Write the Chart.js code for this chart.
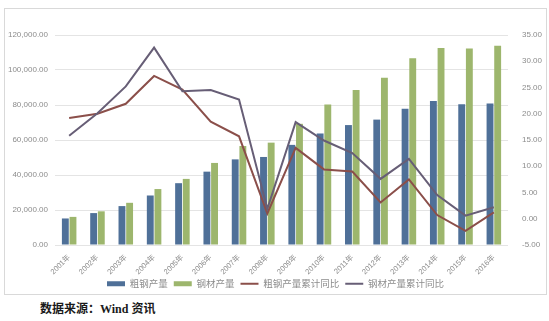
<!DOCTYPE html>
<html>
<head>
<meta charset="utf-8">
<script src="https://cdn.jsdelivr.net/npm/chart.js@4"></script>
<style>
  body { margin: 0; background: #fff; width: 549px; height: 321px; position: relative; overflow: hidden; }
  #frame { position: absolute; left: 4px; top: 8px; width: 541px; height: 285px; border: 1px solid #d9d9d9; }
  #src { position: absolute; left: 40px; top: 299px; font: bold 12px "Liberation Serif", "Noto Sans CJK SC"; color: #1a1a1a; white-space: nowrap; }
</style>
</head>
<body>
<div id="frame"><canvas id="c" width="541" height="285"></canvas></div>
<div id="src">数据来源：Wind 资讯</div>
<script>
const years = ['2001年','2002年','2003年','2004年','2005年','2006年','2007年','2008年',
  '2009年','2010年','2011年','2012年','2013年','2014年','2015年','2016年'];
// 万吨
const crudeSteel = [15163, 18237, 22234, 28291, 35324, 41915, 48929, 50306,
  57218, 63723, 68528, 71654, 77904, 82270, 80383, 80837];
const steelProducts = [16068, 19252, 24108, 31976, 37771, 46893, 56561, 58488,
  69244, 80277, 88620, 95578, 106762, 112513, 112350, 113801];
// 累计同比 %
const crudeYoY = [19.2, 20.0, 21.9, 27.2, 24.6, 18.5, 15.7, 1.0,
  13.5, 9.4, 9.0, 3.1, 7.5, 0.7, -2.3, 1.2];
const productsYoY = [15.8, 20.1, 25.2, 32.6, 24.3, 24.5, 22.7, 1.9,
  18.4, 14.9, 12.5, 7.6, 11.4, 4.5, 0.6, 2.2];
const leftTicks = [0, 20000, 40000, 60000, 80000, 100000, 120000];
const rightTicks = [-5, 0, 5, 10, 15, 20, 25, 30, 35];

function fmtThousands(v) {
  const s = Math.round(v).toString().replace(/\B(?=(\d{3})+(?!\d))/g, ',');
  return s + '.00';
}

const tickFont = { family: '"Liberation Sans", "Noto Sans CJK SC"', size: 8 };

new Chart(document.getElementById('c'), {
  data: {
    labels: years,
    datasets: [
      { type: 'bar', label: '粗钢产量', data: crudeSteel, backgroundColor: '#4f7098', borderWidth: 0,
        categoryPercentage: 0.54, barPercentage: 0.9, order: 2 },
      { type: 'bar', label: '钢材产量', data: steelProducts, backgroundColor: '#9db66d', borderWidth: 0,
        categoryPercentage: 0.54, barPercentage: 0.9, order: 2 },
      { type: 'line', label: '粗钢产量累计同比', data: crudeYoY, yAxisID: 'y1', borderColor: '#8b4f4a',
        backgroundColor: '#8b4f4a', borderWidth: 2, pointRadius: 0, tension: 0, order: 1 },
      { type: 'line', label: '钢材产量累计同比', data: productsYoY, yAxisID: 'y1', borderColor: '#675e76',
        backgroundColor: '#675e76', borderWidth: 2, pointRadius: 0, tension: 0, order: 0 }
    ]
  },
  options: {
    responsive: false,
    animation: false,
    layout: { padding: { top: 26, left: 0, right: 0, bottom: 0 } },
    plugins: {
      tooltip: { enabled: false },
      legend: {
        position: 'bottom',
        maxHeight: 21,
        labels: {
          color: '#8c8c8c',
          font: { family: '"Noto Sans CJK SC"', size: 9.5 },
          usePointStyle: true,
          pointStyleWidth: 18,
          boxHeight: 5,
          padding: 6,
          generateLabels: chart => chart.data.datasets.map((ds, i) => ({
            text: ds.label,
            fillStyle: ds.backgroundColor,
            strokeStyle: ds.type === 'line' ? ds.borderColor : ds.backgroundColor,
            lineWidth: ds.type === 'line' ? 2 : 0,
            pointStyle: ds.type === 'line' ? 'line' : 'rect',
            fontColor: '#8c8c8c',
            datasetIndex: i,
            hidden: false
          }))
        }
      }
    },
    scales: {
      x: {
        grid: { display: false },
        border: { display: false },
        ticks: { color: '#8c8c8c', font: { family: tickFont.family, size: 7.5 }, minRotation: 45, maxRotation: 45, padding: 0 },
        afterFit: s => {
          s.height = 28;
          // let rotated labels run a little into the legend band, as in the original
          s._computeLabelArea = () => undefined;
        }
      },
      y: {
        position: 'left',
        min: 0, max: 120000,
        afterBuildTicks: s => { s.ticks = leftTicks.map(v => ({ value: v })); },
        grid: { color: '#e4e4e4', drawTicks: false },
        border: { display: false },
        ticks: { color: '#8c8c8c', font: tickFont, padding: 7, callback: v => fmtThousands(v) },
        afterFit: s => { s.width = 50; }
      },
      y1: {
        position: 'right',
        min: -5, max: 35,
        afterBuildTicks: s => { s.ticks = rightTicks.map(v => ({ value: v })); },
        grid: { display: false },
        border: { display: false },
        ticks: { color: '#8c8c8c', font: tickFont, padding: 6, callback: v => Number(v).toFixed(2) },
        afterFit: s => { s.width = 38; }
      }
    }
  }
});
</script>
</body>
</html>
